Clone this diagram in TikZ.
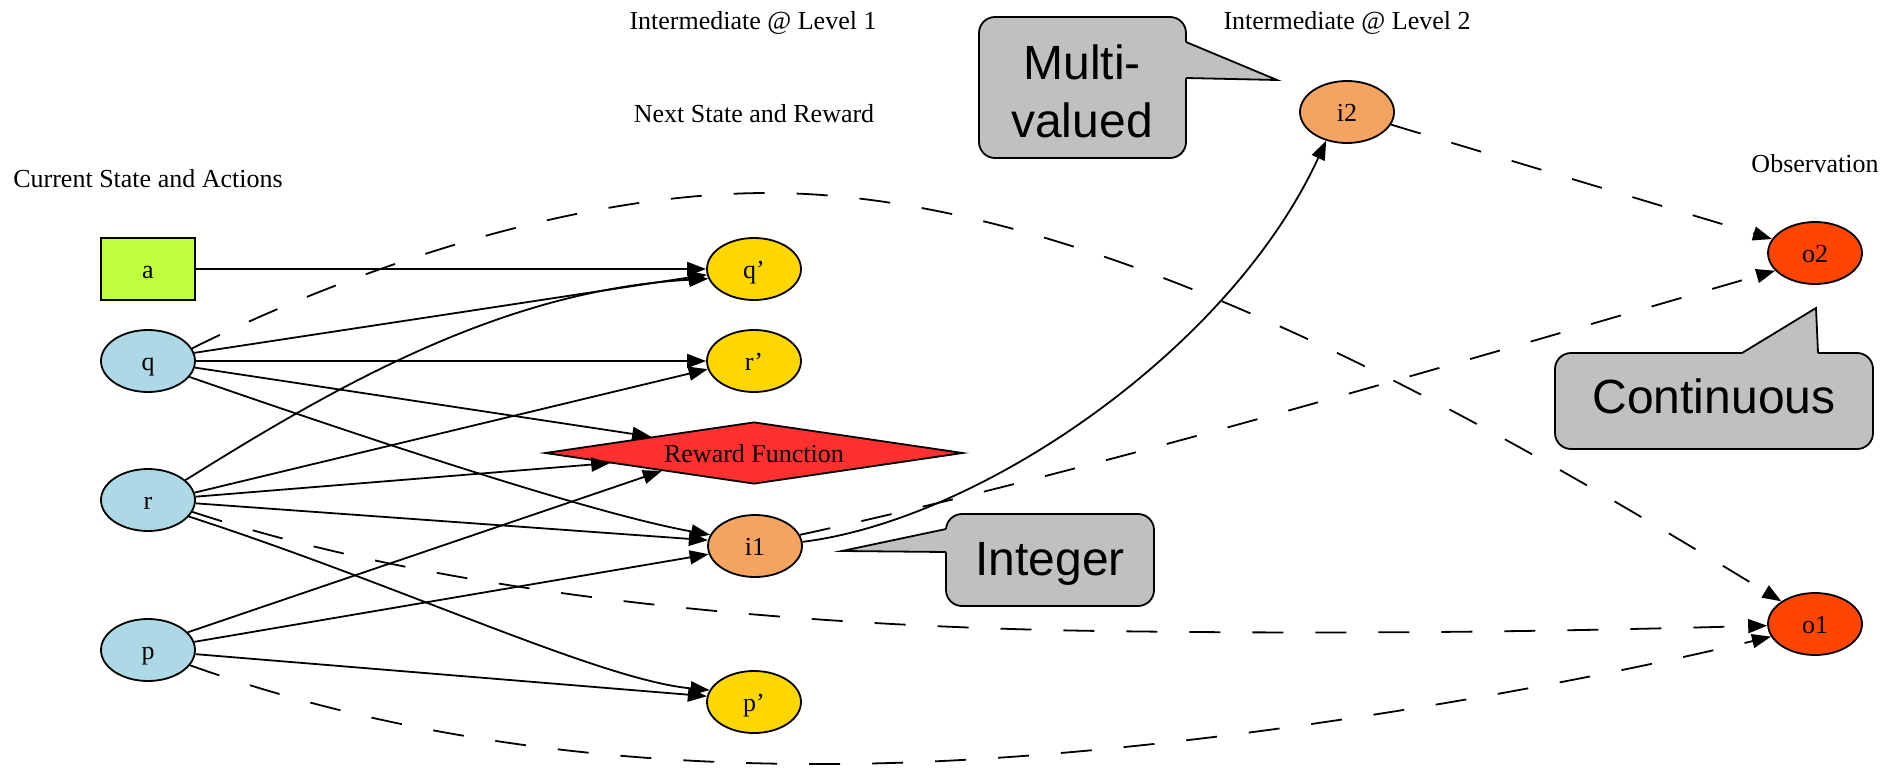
\documentclass[tikz,border=0pt]{standalone}
\usepackage{fontspec}
\setmainfont{Liberation Serif}
\newfontfamily\calloutfont{Liberation Sans}
\usetikzlibrary{arrows.meta,shapes.geometric}
\definecolor{actgreen}{HTML}{C0FF3E}
\definecolor{statblue}{HTML}{ADD8E6}
\definecolor{nextgold}{HTML}{FFD700}
\definecolor{rewardred}{HTML}{FF3030}
\definecolor{midorange}{HTML}{F4A460}
\definecolor{obsred}{HTML}{FF4500}
\definecolor{notegray}{HTML}{C0C0C0}
\begin{document}
\begin{tikzpicture}[x=1pt,y=-1pt,
  every node/.style={font=\fontsize{26}{30}\selectfont, inner sep=0pt},
  basenode/.style={draw, line width=1.8pt, minimum width=94pt, minimum height=62pt,
                   text height=20pt, text depth=2pt},
  actN/.style={basenode, rectangle, fill=actgreen},
  stateN/.style={basenode, ellipse, fill=statblue},
  nextN/.style={basenode, ellipse, fill=nextgold},
  midN/.style={basenode, ellipse, fill=midorange},
  obsN/.style={basenode, ellipse, fill=obsred},
  rewardN/.style={draw, line width=1.8pt, diamond, shape aspect=7, minimum width=418pt,
                  minimum height=62pt, text height=20pt, text depth=2pt, fill=rewardred},
  title/.style={anchor=base},
  flow/.style={line width=1.8pt, -{Triangle[length=19pt,width=14pt]}},
  dashflow/.style={flow, dash pattern=on 31pt off 32pt},
  notebox/.style={draw, line width=1.8pt, fill=notegray, rounded corners=16pt},
  notetext/.style={font=\calloutfont\fontsize{48}{57}\selectfont, anchor=base},
  noteline/.style={line width=1.8pt, line join=miter}
]
\useasboundingbox (0,0) rectangle (1881,768);

% column headings
\node[title] (tcur)  at (148,187)  {Current State and Actions};
\node[title] (tlev1) at (753,30)   {Intermediate @ Level 1};
\node[title] (tnext) at (754,122)  {Next State and Reward};
\node[title] (tlev2) at (1347,30)  {Intermediate @ Level 2};
\node[title] (tobs)  at (1815,172) {Observation};

% state, action and output nodes
\node[actN]    (a)  at (148,269)  {a};
\node[stateN]  (q)  at (148,361)  {q};
\node[stateN]  (r)  at (148,500)  {r};
\node[stateN]  (p)  at (148,650)  {p};
\node[nextN]   (qn) at (754,269)  {q’};
\node[nextN]   (rn) at (754,361)  {r’};
\node[rewardN] (rf) at (754,453)  {Reward Function};
\node[midN]    (i1) at (755,546)  {i1};
\node[nextN]   (pn) at (754,702)  {p’};
\node[midN]    (i2) at (1347,112) {i2};
\node[obsN]    (o2) at (1815,253) {o2};
\node[obsN]    (o1) at (1815,624) {o1};

% transitions
\draw[flow] (a) -- (qn);
\draw[flow] (q.10) -- (qn.187);
\draw[flow] (q) -- (rn);
\draw[flow] (q.352) -- (rf.171);
\draw[flow] (q.339) .. controls (400,450) and (600,515) .. (i1.166);
\draw[flow] (r.28) .. controls (330,390) and (500,290) .. (qn.192);
\draw[flow] (r.9) -- (rn.190);
\draw[flow] (r.4) -- (rf.184);
\draw[flow] (r.-4) -- (i1.173);
\draw[flow] (r.-22) .. controls (400,585) and (600,680) .. (pn.165);
\draw[flow] (p.24) -- (rf.191);
\draw[flow] (p.10) -- (i1.190);
\draw[flow] (p.-5) -- (pn.173);
\draw[flow] (i1.5) .. controls (980,520) and (1230,350) .. (i2.234);

% observation links
\draw[dashflow] (q.16) .. controls (330,280) and (560,193) .. (768,193)
                .. controls (1100,193) and (1500,430) .. (o1.146);
\draw[dashflow] (r.-15) .. controls (400,580) and (700,625) .. (1100,631)
                .. controls (1400,635) and (1600,630) .. (o1.182);
\draw[dashflow] (p.-20) .. controls (400,740) and (620,765) .. (830,764)
                .. controls (1150,763) and (1550,690) .. (o1.196);
\draw[dashflow] (i1.14) .. controls (1100,470) and (1500,350) .. (o2.204);
\draw[dashflow] (i2.-16) -- (o2.162);

% callout: Multi-valued
\node[notebox, minimum width=207pt, minimum height=141pt] (cmv) at (1082.5,87.5) {};
\coordinate (cmvtop) at (1186,42);
\coordinate (cmvtip) at (1277,80);
\coordinate (cmvbot) at (1186,78);
\fill[notegray] (cmvtop) -- (cmvtip) -- (cmvbot) -- ++(-4,0) -- (1182,42) -- cycle;
\draw[noteline] (cmvtop) -- (cmvtip) -- (cmvbot);
\node[notetext] (cmvone) at (1082,80)  {Multi-};
\node[notetext] (cmvtwo) at (1082,137) {valued};

% callout: Continuous
\node[notebox, minimum width=318pt, minimum height=96pt] (ccont) at (1714,401) {};
\coordinate (cconta) at (1742,353);
\coordinate (ccontip) at (1816,308);
\coordinate (ccontb) at (1818,353);
\fill[notegray] (cconta) -- (ccontip) -- (ccontb) -- ++(0,4) -- (1742,357) -- cycle;
\draw[noteline] (cconta) -- (ccontip) -- (ccontb);
\node[notetext] (cconttext) at (1714,413) {Continuous};

% callout: Integer
\node[notebox, minimum width=208pt, minimum height=92pt] (cint) at (1050,560) {};
\coordinate (cinta) at (946,529);
\coordinate (cinttip) at (842,551);
\coordinate (cintb) at (946,552);
\fill[notegray] (cinta) -- (cinttip) -- (cintb) -- ++(4,0) -- (950,529) -- cycle;
\draw[noteline] (cinta) -- (cinttip) -- (cintb);
\node[notetext] (cinttext) at (1050,575) {Integer};
\end{tikzpicture}
\end{document}
